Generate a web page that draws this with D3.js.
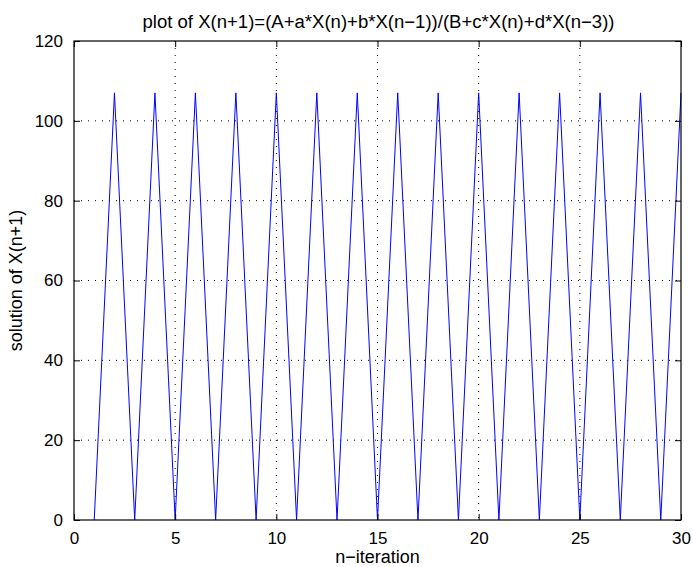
<!DOCTYPE html>
<html>
<head>
<meta charset="utf-8">
<script src="https://cdn.jsdelivr.net/npm/d3@7"></script>
<style>
body { margin: 0; background: #fff; }
text { font-family: "Liberation Sans", Arial, sans-serif; }
</style>
</head>
<body>
<svg id="chart" width="693" height="567"></svg>
<script>
// iteration index and solution values
let iterations = [1, 2, 3, 4, 5, 6, 7, 8, 9, 10, 11, 12, 13, 14, 15,
                  16, 17, 18, 19, 20, 21, 22, 23, 24, 25, 26, 27, 28, 29, 30];
let solution = [0, 107, 0, 107, 0, 107, 0, 107, 0, 107, 0, 107, 0, 107, 0,
                107, 0, 107, 0, 107, 0, 107, 0, 107, 0, 107, 0, 107, 0, 107];
let xTicks = [0, 5, 10, 15, 20, 25, 30];
let yTicks = [0, 20, 40, 60, 80, 100, 120];

let svg = d3.select("#chart");
let margin = {left: 74, top: 41, right: 12, bottom: 47};
let width = +svg.attr("width") - margin.left - margin.right;
let height = +svg.attr("height") - margin.top - margin.bottom;

let x = d3.scaleLinear().domain([0, 30]).range([0, width]);
let y = d3.scaleLinear().domain([0, 120]).range([height, 0]);

let g = svg.append("g").attr("transform", `translate(${margin.left}, ${margin.top})`);

// dotted grid
g.append("g")
    .selectAll("line")
    .data(xTicks.slice(1, -1))
    .enter()
    .append("line")
    .attr("x1", (d) => x(d)).attr("x2", (d) => x(d))
    .attr("y1", 0).attr("y2", height)
    .attr("stroke", "#000").attr("stroke-width", 1)
    .attr("stroke-dasharray", "1,6");
g.append("g")
    .selectAll("line")
    .data(yTicks.slice(1, -1))
    .enter()
    .append("line")
    .attr("y1", (d) => y(d)).attr("y2", (d) => y(d))
    .attr("x1", 0).attr("x2", width)
    .attr("stroke", "#000").attr("stroke-width", 1)
    .attr("stroke-dasharray", "1,6");

// the series
let line = d3.line()
    .x((d, i) => x(iterations[i]))
    .y((d) => y(d));
g.append("path")
    .datum(solution)
    .attr("fill", "none")
    .attr("stroke", "#0000ff")
    .attr("stroke-width", 1)
    .attr("d", line);

// axes, ticks pointing inward like matlab
let axisStyle = (sel) => {
    sel.select(".domain").remove();
    sel.selectAll("text")
        .attr("font-size", "17px")
        .attr("fill", "#000");
    sel.selectAll("line").attr("stroke", "#000");
};
g.append("g")
    .attr("transform", `translate(0, ${height})`)
    .call(d3.axisBottom(x).tickValues(xTicks).tickSize(-6).tickPadding(12))
    .call(axisStyle);
g.append("g")
    .call(d3.axisTop(x).tickValues(xTicks).tickSize(-6).tickFormat(""))
    .call(axisStyle);
g.append("g")
    .call(d3.axisLeft(y).tickValues(yTicks).tickSize(-6).tickPadding(11))
    .call(axisStyle);
g.append("g")
    .attr("transform", `translate(${width}, 0)`)
    .call(d3.axisRight(y).tickValues(yTicks).tickSize(-6).tickFormat(""))
    .call(axisStyle);

// box
g.append("rect")
    .attr("width", width).attr("height", height)
    .attr("fill", "none").attr("stroke", "#000").attr("stroke-width", 1.2);

// labels
svg.append("text")
    .attr("x", margin.left + width / 2 + 1).attr("y", 28)
    .attr("text-anchor", "middle").attr("font-size", "18px")
    .attr("textLength", 472).attr("lengthAdjust", "spacingAndGlyphs")
    .text("plot of X(n+1)=(A+a*X(n)+b*X(n\u22121))/(B+c*X(n)+d*X(n\u22123))");
svg.append("text")
    .attr("x", margin.left + width / 2).attr("y", 563)
    .attr("text-anchor", "middle").attr("font-size", "18px")
    .text("n\u2212iteration");
svg.append("text")
    .attr("transform", `translate(22, ${margin.top + height / 2}) rotate(-90)`)
    .attr("text-anchor", "middle").attr("font-size", "18px")
    .text("solution of X(n+1)");
</script>
</body>
</html>
